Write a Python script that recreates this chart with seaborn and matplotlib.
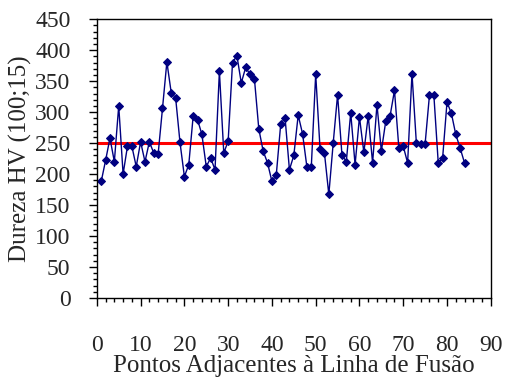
import numpy as np
import pandas as pd
import matplotlib
matplotlib.use('Agg')
import matplotlib.pyplot as plt
from matplotlib.ticker import MultipleLocator
import seaborn as sns

# Dados
pontos = list(range(1, 85))
dureza = [188, 222, 258, 220, 310, 200, 245, 245, 212, 252,
          220, 252, 234, 232, 306, 381, 331, 323, 251, 196,
          215, 293, 288, 264, 212, 226, 207, 366, 234, 253,
          380, 391, 347, 372, 361, 354, 273, 237, 218, 188,
          199, 280, 291, 207, 230, 295, 265, 211, 212, 361,
          240, 234, 167, 250, 328, 231, 220, 299, 215, 292,
          235, 294, 218, 312, 237, 285, 294, 335, 242, 245,
          218, 362, 250, 248, 249, 328, 327, 218, 226, 316,
          298, 264, 242, 218]
limite = 250
xticks = list(range(0, 91, 10))
yticks = list(range(0, 451, 50))

df = pd.DataFrame({'Ponto': pontos, 'Dureza': dureza})

sns.set_style('ticks')
plt.rcParams['font.family'] = ['Liberation Serif', 'DejaVu Serif']

fig, ax = plt.subplots(figsize=(5.07, 3.83), dpi=100)
fig.subplots_adjust(left=0.191, right=0.968, top=0.950, bottom=0.222)

ax.axhline(limite, color='red', linewidth=2.2, zorder=1)
sns.lineplot(data=df, x='Ponto', y='Dureza', ax=ax, color='#000080',
             marker='D', markersize=4.2, markeredgecolor='#000080',
             linewidth=1, zorder=2)

ax.set_xlim(0, 90)
ax.set_ylim(0, 450)
ax.set_xticks(xticks)
ax.set_yticks(yticks)
ax.xaxis.set_minor_locator(MultipleLocator(2))
ax.yaxis.set_minor_locator(MultipleLocator(10))
ax.tick_params(axis='both', which='major', labelsize=17, length=6, width=1, color='black')
ax.tick_params(axis='both', which='minor', length=3, width=1, color='black')
ax.tick_params(axis='x', which='major', pad=21)
ax.tick_params(axis='y', which='major', pad=13)

ax.set_xlabel('Pontos Adjacentes à Linha de Fusão', fontsize=18, labelpad=-1)
ax.set_ylabel('Dureza HV (100;15)', fontsize=18, labelpad=2)

for s in ax.spines.values():
    s.set_color('black')
    s.set_linewidth(1)

plt.savefig('out.png', dpi=100)
